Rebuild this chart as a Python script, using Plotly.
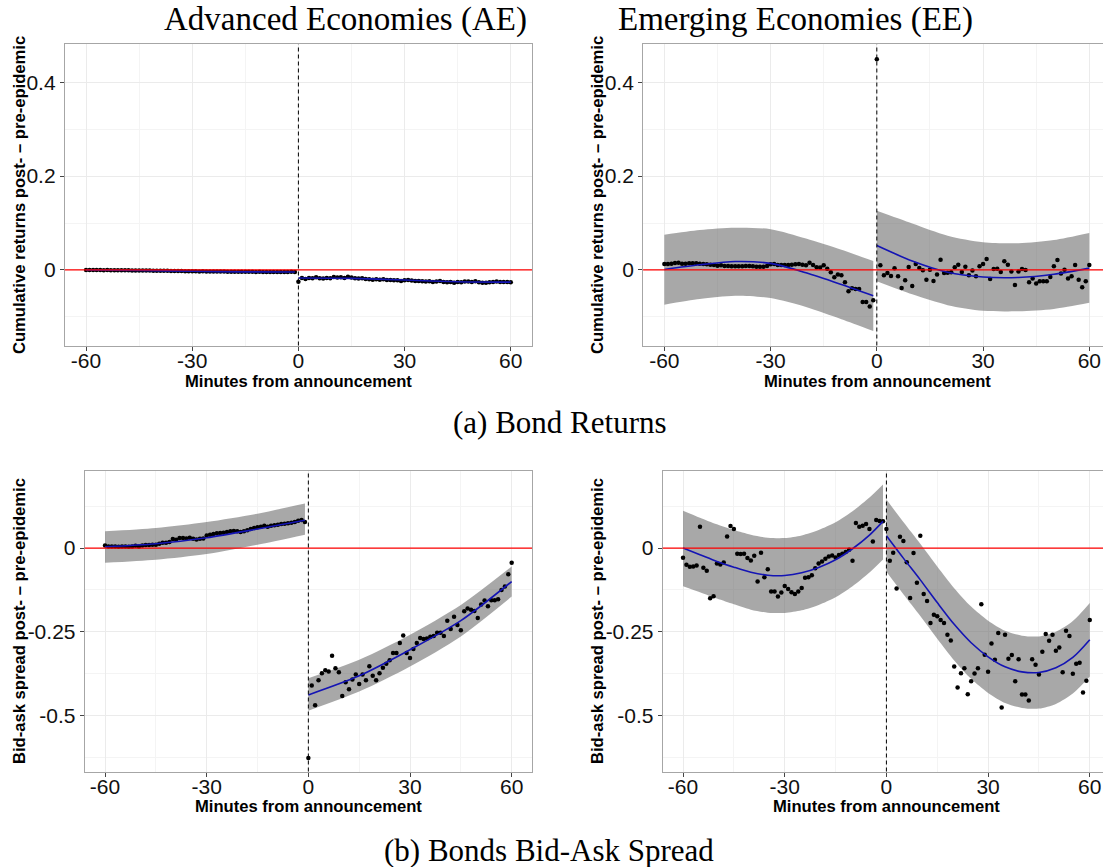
import plotly.graph_objects as go

W, H = 1103, 867

# ---------------- data ----------------
pre_minutes = list(range(-60, 0))
post_minutes = list(range(0, 61))

# Panel (a) AE bond returns
ae_ret_pre = [0.0000, -0.0002, 0.0000, -0.0003, -0.0002, -0.0004, -0.0003, -0.0005, -0.0006, -0.0005,
              -0.0007, -0.0008, -0.0007, -0.0009, -0.0010, -0.0011, -0.0010, -0.0012, -0.0013, -0.0015,
              -0.0016, -0.0018, -0.0017, -0.0019, -0.0021, -0.0022, -0.0024, -0.0023, -0.0026, -0.0027,
              -0.0028, -0.0029, -0.0031, -0.0030, -0.0032, -0.0033, -0.0032, -0.0034, -0.0035, -0.0034,
              -0.0036, -0.0037, -0.0036, -0.0038, -0.0039, -0.0038, -0.0040, -0.0039, -0.0041, -0.0040,
              -0.0041, -0.0042, -0.0041, -0.0043, -0.0042, -0.0044, -0.0043, -0.0042, -0.0040, -0.0045]
ae_ret_post = [-0.0250, -0.0170, -0.0191, -0.0170, -0.0177, -0.0156, -0.0177, -0.0184, -0.0170, -0.0177,
               -0.0149, -0.0163, -0.0156, -0.0170, -0.0142, -0.0163, -0.0177, -0.0184, -0.0177, -0.0191,
               -0.0199, -0.0206, -0.0199, -0.0206, -0.0199, -0.0213, -0.0213, -0.0220, -0.0220, -0.0234,
               -0.0220, -0.0213, -0.0227, -0.0234, -0.0234, -0.0241, -0.0248, -0.0241, -0.0255, -0.0248,
               -0.0234, -0.0255, -0.0262, -0.0255, -0.0270, -0.0255, -0.0262, -0.0248, -0.0248, -0.0255,
               -0.0241, -0.0262, -0.0270, -0.0270, -0.0262, -0.0255, -0.0248, -0.0255, -0.0255, -0.0255,
               -0.0262]
ae_ret_fit_pre_x = [-60, -45, -30, -15, -1]
ae_ret_fit_pre = [-0.0002, -0.0012, -0.0028, -0.0040, -0.0044]
ae_ret_hi_pre = [0.0013, 0.0003, -0.0013, -0.0025, -0.0029]
ae_ret_lo_pre = [-0.0017, -0.0027, -0.0043, -0.0055, -0.0059]
ae_ret_fit_post_x = [0, 15, 30, 45, 60]
ae_ret_fit_post = [-0.0172, -0.0180, -0.0215, -0.0250, -0.0260]
ae_ret_hi_post = [-0.0152, -0.0165, -0.0200, -0.0235, -0.0240]
ae_ret_lo_post = [-0.0192, -0.0195, -0.0230, -0.0265, -0.0280]

# Panel (a) EE bond returns
ee_ret_pre = [0.0128, 0.0128, 0.0135, 0.0149, 0.0156, 0.0135, 0.0135, 0.0142, 0.0142, 0.0142,
              0.0135, 0.0128, 0.0121, 0.0113, 0.0106, 0.0092, 0.0099, 0.0085, 0.0085, 0.0078,
              0.0078, 0.0078, 0.0078, 0.0085, 0.0085, 0.0078, 0.0071, 0.0071, 0.0071, 0.0085,
              0.0121, 0.0128, 0.0106, 0.0106, 0.0106, 0.0106, 0.0113, 0.0121, 0.0128, 0.0113,
              0.0099, 0.0156, 0.0106, 0.0057, 0.0050, 0.0099, 0.0028, -0.0050, -0.0156, -0.0099,
              -0.0113, -0.0262, -0.0454, -0.0390, -0.0404, -0.0404, -0.0681, -0.0681, -0.0780, -0.0645]
ee_ret_post = [0.4490, 0.0099, -0.0113, -0.0064, -0.0128, 0.0035, -0.0135, -0.0383, -0.0220, 0.0064,
               -0.0340, 0.0128, 0.0043, -0.0007, -0.0206, 0.0007, -0.0234, -0.0099, 0.0220, -0.0064,
               -0.0057, -0.0050, 0.0057, 0.0113, -0.0043, 0.0071, -0.0113, -0.0014, -0.0135, 0.0078,
               0.0128, 0.0234, -0.0191, 0.0021, 0.0028, -0.0043, 0.0184, 0.0113, -0.0035, -0.0319,
               -0.0035, 0.0021, 0.0000, -0.0262, -0.0184, -0.0291, -0.0241, -0.0241, -0.0241, -0.0149,
               0.0078, 0.0213, -0.0078, 0.0007, -0.0184, -0.0135, 0.0106, -0.0206, -0.0369, -0.0241,
               0.0106]
ee_ret_fit_pre_x = [-60, -50, -40, -30, -20, -10, -1]
ee_ret_fit_pre = [0.001, 0.011, 0.018, 0.014, -0.006, -0.031, -0.055]
ee_ret_hi_pre = [0.075, 0.085, 0.090, 0.087, 0.067, 0.043, 0.019]
ee_ret_lo_pre = [-0.074, -0.062, -0.055, -0.060, -0.079, -0.105, -0.130]
ee_ret_fit_post_x = [0, 10, 20, 30, 40, 50, 60]
ee_ret_fit_post = [0.052, 0.019, -0.005, -0.015, -0.016, -0.009, 0.004]
ee_ret_hi_post = [0.126, 0.099, 0.073, 0.059, 0.057, 0.064, 0.079]
ee_ret_lo_post = [-0.024, -0.052, -0.075, -0.087, -0.088, -0.083, -0.070]

# Panel (b) AE bid-ask spread
ae_spr_pre = [0.008, 0.005, 0.005, 0.005, 0.004, 0.005, 0.005, 0.004, 0.005, 0.007,
              0.005, 0.008, 0.009, 0.009, 0.010, 0.010, 0.013, 0.016, 0.016, 0.018,
              0.027, 0.025, 0.030, 0.030, 0.029, 0.031, 0.028, 0.026, 0.028, 0.029,
              0.038, 0.040, 0.042, 0.044, 0.045, 0.046, 0.048, 0.050, 0.051, 0.050,
              0.048, 0.050, 0.053, 0.057, 0.060, 0.062, 0.064, 0.067, 0.064, 0.067,
              0.068, 0.070, 0.072, 0.073, 0.074, 0.076, 0.078, 0.082, 0.084, 0.078]
ae_spr_post = [-0.628, -0.411, -0.470, -0.395, -0.374, -0.365, -0.369, -0.322, -0.359, -0.371,
               -0.442, -0.401, -0.422, -0.393, -0.378, -0.406, -0.378, -0.395, -0.353, -0.382,
               -0.395, -0.374, -0.358, -0.346, -0.335, -0.314, -0.314, -0.284, -0.261, -0.314,
               -0.329, -0.302, -0.284, -0.269, -0.272, -0.270, -0.265, -0.263, -0.253, -0.253,
               -0.263, -0.217, -0.242, -0.205, -0.230, -0.246, -0.189, -0.181, -0.184, -0.188,
               -0.209, -0.169, -0.157, -0.174, -0.156, -0.156, -0.153, -0.125, -0.115, -0.078,
               -0.044]
ae_spr_fit_pre_x = [-60, -45, -30, -15, -1]
ae_spr_fit_pre = [0.004, 0.013, 0.031, 0.057, 0.083]
ae_spr_hi_pre = [0.050, 0.060, 0.078, 0.103, 0.133]
ae_spr_lo_pre = [-0.044, -0.035, -0.018, 0.010, 0.040]
ae_spr_fit_post_x = [0, 15, 30, 45, 60]
ae_spr_fit_post = [-0.439, -0.382, -0.304, -0.217, -0.100]
ae_spr_hi_post = [-0.389, -0.334, -0.259, -0.170, -0.055]
ae_spr_lo_post = [-0.486, -0.429, -0.354, -0.264, -0.145]

# Panel (b) EE bid-ask spread
ee_spr_pre = [-0.029, -0.050, -0.056, -0.055, -0.052, 0.064, -0.059, -0.068, -0.150, -0.144,
              -0.046, -0.049, -0.043, 0.035, 0.066, 0.057, -0.017, -0.018, -0.017, -0.030,
              -0.037, -0.023, -0.100, -0.014, -0.087, -0.063, -0.130, -0.130, -0.145, -0.133,
              -0.113, -0.122, -0.132, -0.137, -0.130, -0.119, -0.089, -0.087, -0.081, -0.060,
              -0.046, -0.040, -0.032, -0.025, -0.022, -0.028, -0.021, -0.017, -0.012, -0.005,
              -0.038, 0.075, 0.064, 0.067, 0.072, 0.057, 0.020, 0.084, 0.081, 0.080]
ee_spr_post = [0.057, -0.038, -0.014, -0.121, 0.034, 0.021, -0.042, -0.149, -0.015, -0.104,
               0.037, -0.137, -0.158, -0.224, -0.199, -0.204, -0.215, -0.224, -0.259, -0.276,
               -0.354, -0.417, -0.374, -0.359, -0.437, -0.398, -0.375, -0.359, -0.168, -0.319,
               -0.370, -0.285, -0.334, -0.254, -0.477, -0.259, -0.331, -0.320, -0.398, -0.332,
               -0.438, -0.438, -0.456, -0.332, -0.349, -0.378, -0.310, -0.257, -0.277, -0.259,
               -0.307, -0.297, -0.371, -0.247, -0.263, -0.376, -0.346, -0.343, -0.432, -0.397,
               -0.215]
ee_spr_fit_pre_x = [-60, -55, -50, -45, -40, -35, -30, -25, -20, -15, -10, -5, -1]
ee_spr_fit_pre = [0.000, -0.020, -0.040, -0.057, -0.072, -0.081, -0.082, -0.074, -0.058, -0.035, -0.002, 0.039, 0.080]
ee_spr_hi_pre = [0.112, 0.091, 0.071, 0.054, 0.040, 0.031, 0.030, 0.038, 0.054, 0.077, 0.110, 0.151, 0.190]
ee_spr_lo_pre = [-0.114, -0.132, -0.151, -0.168, -0.184, -0.193, -0.194, -0.186, -0.170, -0.147, -0.114, -0.073, -0.034]
ee_spr_fit_post_x = [0, 5, 10, 15, 20, 25, 30, 35, 40, 45, 50, 55, 60]
ee_spr_fit_post = [0.037, -0.030, -0.095, -0.163, -0.228, -0.283, -0.325, -0.355, -0.370, -0.372, -0.358, -0.327, -0.274]
ee_spr_hi_post = [0.145, 0.078, 0.013, -0.055, -0.120, -0.175, -0.217, -0.247, -0.262, -0.264, -0.250, -0.218, -0.164]
ee_spr_lo_post = [-0.071, -0.138, -0.203, -0.271, -0.336, -0.391, -0.433, -0.463, -0.478, -0.480, -0.466, -0.435, -0.384]

x_tick_vals = [-60, -30, 0, 30, 60]
x_tick_text = ["-60", "-30", "0", "30", "60"]
ret_tick_vals = [0, 0.2, 0.4]
ret_tick_text = ["0", "0.2", "0.4"]
spr_tick_vals = [0, -0.25, -0.5]
spr_tick_text = ["0", "-0.25", "-0.5"]

titles = ["Advanced Economies (AE)", "Emerging Economies (EE)"]
captions = ["(a) Bond Returns", "(b) Bonds Bid-Ask Spread"]
ylab_ret = "Cumulative returns post- \u2013 pre-epidemic"
ylab_spr = "Bid-ask spread post- \u2013 pre-epidemic"
xlab = "Minutes from announcement"

# ---------------- styling / layout ----------------
BAND = "rgba(105,105,105,0.58)"
LINE = "#1414B4"
GRID = "#EBEBEB"
MINOR = "#F4F4F4"
BORDER = "#A6A6A6"
TICKFONT = dict(family="Liberation Sans, Arial, sans-serif", size=21, color="#111111")
LABFONT = dict(family="Liberation Sans, Arial, sans-serif", size=16.6, color="#000000", weight="bold")
SERIF = dict(family="Liberation Serif, Times New Roman, serif", size=33, color="#000000")

def px_dom_x(a, b):
    return [a / W, min(b / W, 1.0)]

def px_dom_y(top, bottom):
    return [1 - bottom / H, 1 - top / H]

panels = [
    ("", (64.8, 532.0), (44.3, 345.5), [-66, 66], [-0.161, 0.481], ret_tick_vals, ret_tick_text, [-0.1, 0.1, 0.3], True),
    ("2", (643.1, 1103.0), (44.3, 345.5), [-66, 63.87], [-0.161, 0.481], ret_tick_vals, ret_tick_text, [-0.1, 0.1, 0.3], False),
    ("3", (84.7, 532.0), (471.0, 771.5), [-66, 66], [-0.668, 0.2305], spr_tick_vals, spr_tick_text, [-0.625, -0.375, -0.125, 0.125], True),
    ("4", (662.7, 1103.0), (471.0, 771.5), [-66, 63.9], [-0.668, 0.2305], spr_tick_vals, spr_tick_text, [-0.625, -0.375, -0.125, 0.125], False),
]

fig = go.Figure()

series = [
    (ae_ret_pre, ae_ret_post, ae_ret_fit_pre_x, ae_ret_fit_pre, ae_ret_hi_pre, ae_ret_lo_pre,
     ae_ret_fit_post_x, ae_ret_fit_post, ae_ret_hi_post, ae_ret_lo_post),
    (ee_ret_pre, ee_ret_post, ee_ret_fit_pre_x, ee_ret_fit_pre, ee_ret_hi_pre, ee_ret_lo_pre,
     ee_ret_fit_post_x, ee_ret_fit_post, ee_ret_hi_post, ee_ret_lo_post),
    (ae_spr_pre, ae_spr_post, ae_spr_fit_pre_x, ae_spr_fit_pre, ae_spr_hi_pre, ae_spr_lo_pre,
     ae_spr_fit_post_x, ae_spr_fit_post, ae_spr_hi_post, ae_spr_lo_post),
    (ee_spr_pre, ee_spr_post, ee_spr_fit_pre_x, ee_spr_fit_pre, ee_spr_hi_pre, ee_spr_lo_pre,
     ee_spr_fit_post_x, ee_spr_fit_post, ee_spr_hi_post, ee_spr_lo_post),
]

layout_axes = {}
shapes = []
for (suf, xd, yd, xr, yr, ytv, ytt, minor_vals, rb), s in zip(panels, series):
    xa, ya = "x" + suf, "y" + suf
    (pre, post, fpx, fp, hp, lp, fqx, fq, hq, lq) = s
    segs = ((fpx, fp, hp, lp), (fqx, fq, hq, lq))
    for fx, f, hi, lo in segs:
        fig.add_trace(go.Scatter(x=fx, y=hi, mode="lines", line=dict(width=0, shape="spline", smoothing=0.8),
                                 xaxis=xa, yaxis=ya, showlegend=False, hoverinfo="skip"))
        fig.add_trace(go.Scatter(x=fx, y=lo, mode="lines", line=dict(width=0, shape="spline", smoothing=0.8),
                                 fill="tonexty", fillcolor=BAND,
                                 xaxis=xa, yaxis=ya, showlegend=False, hoverinfo="skip"))
    fig.add_trace(go.Scatter(x=pre_minutes + post_minutes, y=pre + post, mode="markers",
                             marker=dict(color="black", size=4.5),
                             xaxis=xa, yaxis=ya, showlegend=False))
    for fx, f, hi, lo in segs:
        fig.add_trace(go.Scatter(x=fx, y=f, mode="lines",
                                 line=dict(color=LINE, width=1.6, shape="spline", smoothing=0.8),
                                 xaxis=xa, yaxis=ya, showlegend=False))
    layout_axes["xaxis" + suf] = dict(
        domain=px_dom_x(*xd), range=xr, anchor=ya, tickmode="array", tickvals=x_tick_vals,
        ticktext=x_tick_text, ticks="outside", ticklen=4, tickcolor="#444444", tickfont=TICKFONT,
        ticklabelstandoff=-8,
        showgrid=True, gridcolor=GRID, gridwidth=1, zeroline=False,
        showline=True, linecolor=BORDER, linewidth=1, mirror=True,
        minor=dict(tickmode="array", tickvals=[-45, -15, 15, 45], showgrid=True, gridcolor=MINOR, ticks=""),
    )
    layout_axes["yaxis" + suf] = dict(
        domain=px_dom_y(*yd), range=yr, anchor=xa, tickmode="array", tickvals=ytv,
        ticktext=ytt, ticks="outside", ticklen=4, tickcolor="#444444", tickfont=TICKFONT,
        showgrid=True, gridcolor=GRID, gridwidth=1, zeroline=False,
        showline=True, linecolor=BORDER, linewidth=1, mirror=rb,
        minor=dict(tickmode="array", tickvals=minor_vals, showgrid=True, gridcolor=MINOR, ticks=""),
    )
    shapes.append(dict(type="line", xref=xa + " domain", yref=ya, x0=0, x1=1, y0=0, y1=0,
                       line=dict(color="#FF0000", width=1.2), layer="above"))
    shapes.append(dict(type="line", xref=xa, yref=ya + " domain", x0=0, x1=0, y0=0, y1=1,
                       line=dict(color="black", width=1, dash="4px,3px"), layer="above"))

annotations = []
def ann(text, px, py, font, angle=0):
    annotations.append(dict(text=text, x=px / W, y=1 - py / H, xref="paper", yref="paper",
                            showarrow=False, xanchor="center", yanchor="middle",
                            font=font, textangle=angle))

ann(titles[0], 345.5, 20, SERIF)
ann(titles[1], 795, 20, SERIF)
ann(captions[0], 560, 422, dict(SERIF, size=31))
ann(captions[1], 549, 850, dict(SERIF, size=31))
ann(ylab_ret, 19, 195, LABFONT, -90)
ann(ylab_ret, 597, 195, LABFONT, -90)
ann(ylab_spr, 19, 621, LABFONT, -90)
ann(ylab_spr, 597, 621, LABFONT, -90)
ann(xlab, 298.4, 381, LABFONT)
ann(xlab, 877, 381, LABFONT)
ann(xlab, 308.3, 806, LABFONT)
ann(xlab, 886, 806, LABFONT)

fig.update_layout(
    width=W, height=H, margin=dict(l=0, r=0, t=0, b=0, pad=0),
    paper_bgcolor="white", plot_bgcolor="white",
    shapes=shapes, annotations=annotations, showlegend=False,
    **layout_axes,
)

fig.write_html("out.html")
